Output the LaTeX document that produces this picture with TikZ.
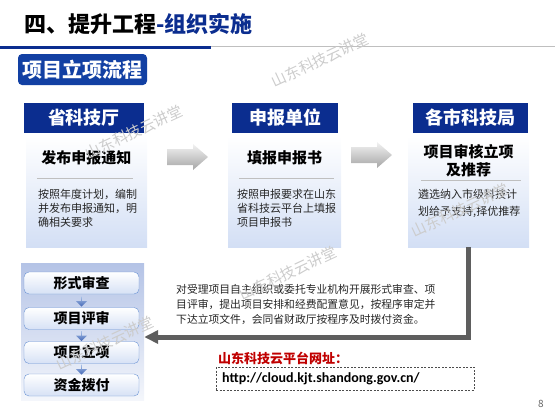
\documentclass[tikz,border=0pt]{standalone}
\usepackage{fontspec}
\setmainfont{Noto Sans CJK SC}
\newfontfamily\urlfont{Carlito}
\usetikzlibrary{shapes.arrows,arrows.meta,positioning,calc}
\definecolor{navy}{HTML}{0B2D8F}
\definecolor{tagblue}{HTML}{1240A3}
\definecolor{bodyblue}{HTML}{D3DFF5}
\definecolor{panelblue}{HTML}{B4C3E6}
\definecolor{stageline}{HTML}{6A93D4}
\definecolor{stagefill}{HTML}{D6E1F5}
\definecolor{conngray}{HTML}{5E5E5E}
\definecolor{urlred}{HTML}{C00000}
\definecolor{txtgray}{HTML}{262626}

\begin{document}
\begin{tikzpicture}[x=1pt, y=-1pt,
  head/.style={fill=navy, text=white, minimum height=30pt, inner sep=0pt, font=\fontsize{18}{20}\selectfont\bfseries},
  body/.style={top color=white, bottom color=bodyblue, minimum height=111pt, inner sep=0pt},
  ttl/.style={inner sep=0pt, align=center, font=\fontsize{15}{18}\selectfont\bfseries},
  txt/.style={anchor=north west, inner sep=0pt, align=left, text=txtgray},
  rule/.style={draw=black!25, line width=1pt},
  grayarr/.style={top color=black!5, bottom color=black!35},
  downarr/.style={single arrow, shape border rotate=270, minimum height=10pt, minimum width=11pt, single arrow head extend=2.5pt, inner sep=0pt, top color=stageline!60, bottom color=tagblue!80},
  stagebox/.style={draw=stageline, rounded corners=5pt, top color=white, bottom color=stagefill, minimum width=115pt, minimum height=22pt, inner sep=0pt, font=\fontsize{14}{16}\selectfont\bfseries},
  wmark/.style={text=black!20, rotate=25, inner sep=0pt, font=\fontsize{15}{16}\selectfont},
  ]
  \useasboundingbox (0,0) rectangle (555,416);

  % heading
  \node[anchor=west, inner sep=0pt, font=\fontsize{22}{24}\selectfont\bfseries] (title) at (24,24) {四、提升工程\textcolor{navy}{-组织实施}};
  \draw[black!25, line width=1pt] (0,46.5) -- (555,46.5);
  \draw[navy, line width=3pt] (0,47) -- (211,47);
  \node[fill=tagblue, rounded corners=4pt, text=white, minimum width=129pt, minimum height=31pt, inner sep=0pt, font=\fontsize{20}{22}\selectfont\bfseries] (tag) at (82.5,69.5) {项目立项流程};

  % three columns
  \node[body, minimum width=121pt] (bodyA) at (86.5,191.5) {};
  \node[body, minimum width=113pt] (bodyB) at (284.5,191.5) {};
  \node[body, minimum width=121pt] (bodyC) at (468.5,191.5) {};
  \node[head, minimum width=120pt] (headA) at (84,117.5) {省科技厅};
  \node[head, minimum width=106pt] (headB) at (285,117.5) {申报单位};
  \node[head, minimum width=115pt] (headC) at (470.5,117.5) {各市科技局};

  \node[ttl] (ttlA) at (86.5,158) {发布申报通知};
  \node[ttl] (ttlB) at (284.5,158) {填报申报书};
  \node[ttl, font=\fontsize{15}{18}\selectfont\bfseries] (ttlC) at (468.5,161) {项目审核立项\\及推荐};
  \draw[rule] (37,178.5) -- (133,178.5);
  \draw[rule] (239,178.5) -- (334,178.5);
  \draw[rule] (421,180) -- (521,180);

  \node[txt, font=\fontsize{11}{14}\selectfont] (txtA) at (38,189) {按照年度计划，编制\\并发布申报通知，明\\确相关要求};
  \node[txt, font=\fontsize{11}{14}\selectfont] (txtB) at (237,189) {按照申报要求在山东\\省科技云平台上填报\\项目申报书};
  \node[txt, font=\fontsize{11}{17}\selectfont] (txtC) at (418,189) {遴选纳入市级科技计\\划给予支持,择优推荐};

  % block arrows between columns
  \path[grayarr] (167,149) -- (193,149) -- (193,144) -- (208,157) -- (193,170) -- (193,165) -- (167,165) -- cycle;
  \path[grayarr] (351,147) -- (377,147) -- (377,142) -- (392,155) -- (377,168) -- (377,163) -- (351,163) -- cycle;

  % review stages
  \node[top color=panelblue, bottom color=white!85!panelblue, minimum width=123pt, minimum height=137pt, inner sep=0pt] (stages) at (82.5,331.5) {};
  \node[stagebox] (stageA) at (81.5,283) {形式审查};
  \node[stagebox] (stageB) at (81.5,318.5) {项目评审};
  \node[stagebox] (stageC) at (81.5,352.5) {项目立项};
  \node[stagebox] (stageD) at (81.5,385) {资金拨付};
  \node[downarr] (downA) at (81.5,301.5) {};
  \node[downarr] (downB) at (81.5,336) {};
  \node[downarr] (downC) at (81.5,369.5) {};

  % feedback connector
  \coordinate (tipA) at (stages.east |- 0,337);
  \draw[conngray, line width=5pt, -{Triangle[length=14pt, width=13pt]}] (bodyC.south) |- (tipA);

  \node[txt, font=\fontsize{10.8}{15}\selectfont] (note) at (176,284) {对受理项目自主组织或委托专业机构开展形式审查、项\\目评审，提出项目安排和经费配置意见，按程序审定并\\下达立项文件，会同省财政厅按程序及时拨付资金。};

  % platform address
  \node[anchor=west, inner sep=0pt, text=urlred, font=\fontsize{13}{15}\selectfont\bfseries] (urltitle) at (218,358) {山东科技云平台网址：};
  \node[draw=black!70, dash pattern=on 2pt off 1.5pt, anchor=west, text width=246pt, inner xsep=6pt, minimum height=23pt, font=\urlfont\fontsize{14}{16}\selectfont\bfseries] (urlbox) at (216,378.5) {http://cloud.kjt.shandong.gov.cn/};

  \node[text=black!60, inner sep=0pt, font=\fontsize{10}{11}\selectfont] (page) at (541,404) {8};

  % watermarks
  \node[wmark] (markA) at (320,60) {山东科技云讲堂};
  \node[wmark] (markB) at (134,132) {山东科技云讲堂};
  \node[wmark] (markC) at (460,210) {山东科技云讲堂};
  \node[wmark] (markD) at (288,273) {山东科技云讲堂};
  \node[wmark] (markE) at (105,343) {山东科技云讲堂};
\end{tikzpicture}
\end{document}
